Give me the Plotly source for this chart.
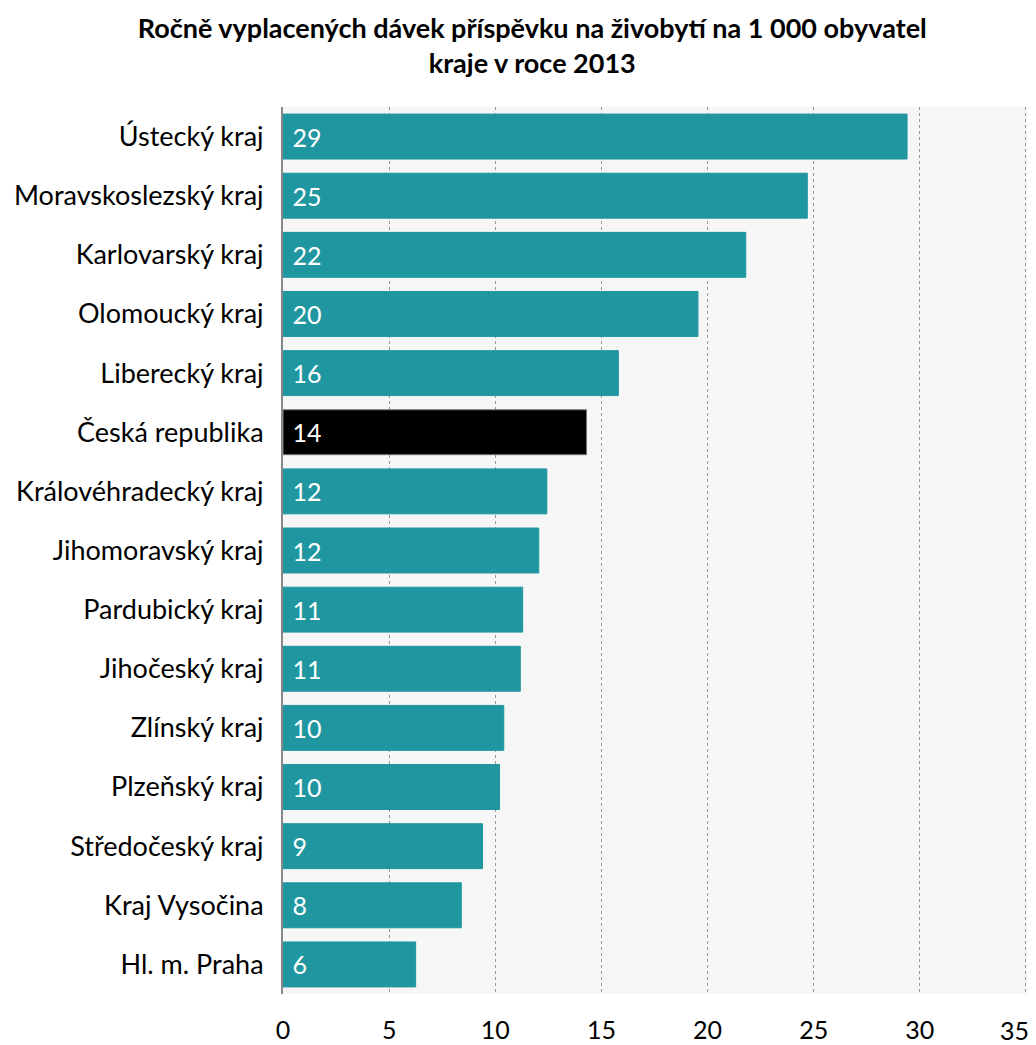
import plotly.graph_objects as go

categories = ["Ústecký kraj", "Moravskoslezský kraj", "Karlovarský kraj", "Olomoucký kraj",
              "Liberecký kraj", "Česká republika", "Královéhradecký kraj", "Jihomoravský kraj",
              "Pardubický kraj", "Jihočeský kraj", "Zlínský kraj", "Plzeňský kraj",
              "Středočeský kraj", "Kraj Vysočina", "Hl. m. Praha"]
values = [29.4, 24.7, 21.8, 19.55, 15.8, 14.3, 12.43, 12.05, 11.29, 11.18, 10.4, 10.2, 9.4, 8.4, 6.25]
highlight = "Česká republika"
tick_vals = [0, 5, 10, 15, 20, 25, 30, 35]
# the last label is drawn as a right-anchored annotation so it stays inside the page
tick_text = [str(v) for v in tick_vals[:-1]] + [""]

TEAL = "#2096A0"
colors = ["#000000" if c == highlight else TEAL for c in categories]
line_colors = ["#777777" if c == highlight else TEAL for c in categories]

fig = go.Figure(go.Bar(
    x=values, y=categories, orientation="h",
    marker=dict(color=colors, line=dict(color=line_colors, width=1)),
    texttemplate="\u00a0%{x:.0f}", textposition="inside", insidetextanchor="start",
    textfont=dict(color="white", size=25, family="Lato"),
    cliponaxis=False,
))

fig.add_annotation(
    x=tick_vals[-1], xref="x", y=0, yref="paper",
    text=str(tick_vals[-1]), showarrow=False,
    xanchor="right", yanchor="middle", xshift=5, yshift=-36,
    font=dict(size=25, family="Lato", color="black"),
)

fig.update_layout(
    width=1028, height=1037,
    margin=dict(l=275, r=9, t=99, b=51),
    paper_bgcolor="white", plot_bgcolor="#f6f6f6",
    bargap=0.24,
    showlegend=False,
    font=dict(family="Lato", color="black"),
    title=dict(
        text="<b>Ročně vyplacených dávek příspěvku na živobytí na 1 000 obyvatel<br>kraje v roce 2013</b>",
        x=0.51, xanchor="center", y=0.971, yanchor="top",
        font=dict(size=27, family="Lato", color="black"),
    ),
    xaxis=dict(
        range=[0, 35.05], tickvals=tick_vals, ticktext=tick_text, ticks="", ticklabelstandoff=19,
        ticklabeloverflow="allow", automargin=False,
        showgrid=True, gridcolor="#999999", griddash="dot", gridwidth=1,
        zeroline=False, showline=False,
        tickfont=dict(size=25, family="Lato", color="black"),
    ),
    yaxis=dict(
        categoryorder="array", categoryarray=categories[::-1],
        ticks="", ticklabelstandoff=12, automargin=False,
        showline=True, linecolor="#888888", linewidth=2,
        tickfont=dict(size=27, family="Lato", color="black"),
    ),
)

fig.write_html("out.html")
